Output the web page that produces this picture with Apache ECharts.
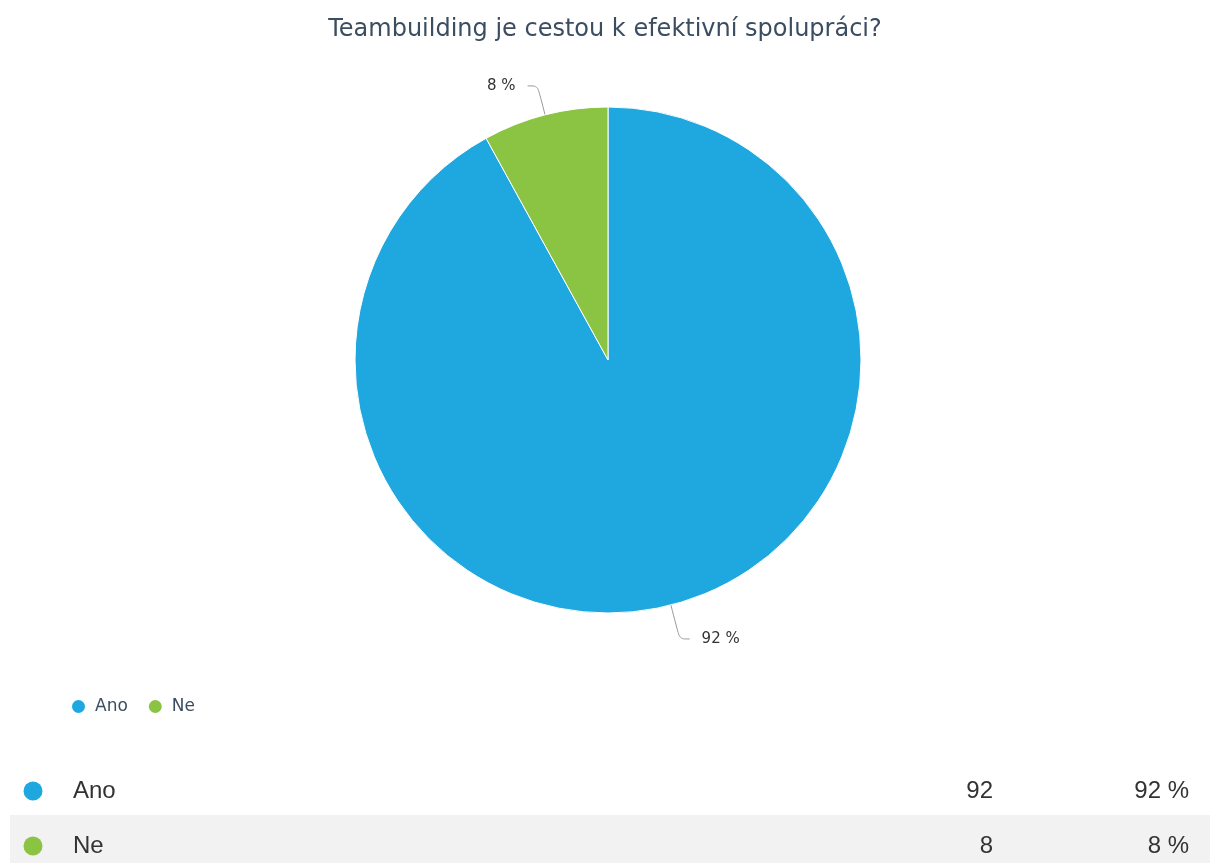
<!DOCTYPE html>
<html>
<head>
<meta charset="utf-8">
<script src="https://cdn.jsdelivr.net/npm/echarts@6/dist/echarts.min.js"></script>
<style>
  html, body { margin: 0; padding: 0; background: #fff; }
  #chart { width: 1210px; height: 863px; }
</style>
</head>
<body>
<div id="chart"></div>
<script>
// Survey answers
const titleText = 'Teambuilding je cestou k efektivní spolupráci?';
const categories = ['Ano', 'Ne'];
const counts = [92, 8];
const percents = [92, 8];
const colors = ['#1fa8e0', '#8bc443'];
// leader line length for each slice label
const leaderLengths = [35, 30];

const chart = echarts.init(document.getElementById('chart'));

const pieData = categories.map((name, i) => ({
  name: name,
  value: counts[i],
  itemStyle: { color: colors[i] },
  labelLine: { length: leaderLengths[i] }
}));

// Summary table under the chart: one row per answer
const rowCenters = [791, 846];
const stripeTop = 815;
const tableFont = '24px "Liberation Sans", Arial, sans-serif';
const tableGraphics = [];
categories.forEach((name, i) => {
  const cy = rowCenters[i];
  if (i % 2 === 1) {
    tableGraphics.push({
      type: 'rect', shape: { x: 10, y: stripeTop, width: 1200, height: 863 - stripeTop },
      style: { fill: '#f2f2f2' }, silent: true, z: 0
    });
  }
  tableGraphics.push({
    type: 'circle', shape: { cx: 33, cy: cy, r: 9.5 },
    style: { fill: colors[i] }, z: 1
  });
  tableGraphics.push({
    type: 'text', x: 73, y: cy, z: 1,
    style: { text: name, fill: '#333', font: tableFont, textVerticalAlign: 'middle', textAlign: 'left' }
  });
  tableGraphics.push({
    type: 'text', x: 993, y: cy, z: 1,
    style: { text: String(counts[i]), fill: '#333', font: tableFont, textVerticalAlign: 'middle', textAlign: 'right' }
  });
  tableGraphics.push({
    type: 'text', x: 1189, y: cy, z: 1,
    style: { text: percents[i] + ' %', fill: '#333', font: tableFont, textVerticalAlign: 'middle', textAlign: 'right' }
  });
});

chart.setOption({
  animation: false,
  backgroundColor: '#fff',
  title: {
    text: titleText,
    left: 'center',
    top: 13,
    textStyle: {
      fontFamily: '"DejaVu Sans", sans-serif',
      fontSize: 24,
      fontWeight: 'normal',
      color: '#3b4d61'
    }
  },
  legend: {
    data: categories,
    left: 65,
    top: 693,
    icon: 'circle',
    itemWidth: 15,
    itemHeight: 15,
    itemGap: 19,
    textStyle: {
      fontFamily: '"DejaVu Sans", sans-serif',
      fontSize: 17,
      color: '#3b4d61',
      padding: [0, 0, 0, 4]
    }
  },
  series: [{
    type: 'pie',
    center: [608, 360],
    radius: [0, 253],
    startAngle: 90,
    clockwise: true,
    avoidLabelOverlap: false,
    itemStyle: { borderColor: '#fff', borderWidth: 1 },
    label: {
      show: true,
      formatter: p => percents[p.dataIndex] + ' %',
      fontFamily: '"DejaVu Sans", sans-serif',
      fontSize: 15,
      color: '#333',
      distanceToLabelLine: 12
    },
    labelLine: {
      show: true,
      length: 30,
      length2: 10,
      smooth: 0.3,
      lineStyle: { color: '#999', width: 1 }
    },
    emphasis: { disabled: true },
    data: pieData
  }],
  graphic: tableGraphics
});
</script>
</body>
</html>
